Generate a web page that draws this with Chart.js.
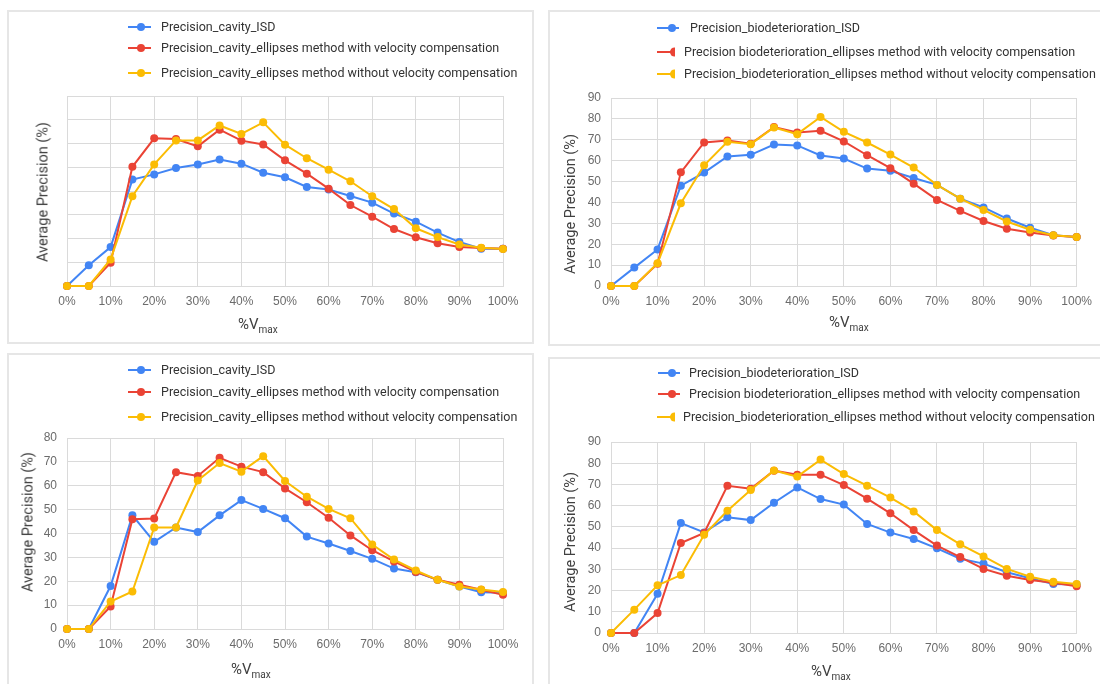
<!DOCTYPE html>
<html>
<head>
<meta charset="utf-8">
<script src="https://cdn.jsdelivr.net/npm/chart.js@4.4.1/dist/chart.umd.min.js"></script>
<style>
  body { margin: 0; width: 1100px; height: 684px; background: #fff; position: relative; overflow: hidden; font-family: Roboto, sans-serif; }
  .panel { position: absolute; border: 2px solid #e6e6e6; box-sizing: border-box; }
  canvas { position: absolute; }
  .lgText { position: absolute; white-space: nowrap; font-size: 12.5px; line-height: 14px; color: #333; transform: translateY(-50%); }
  .lgLine { position: absolute; height: 2px; transform: translateY(-50%); }
  .lgDot { position: absolute; width: 8px; height: 8px; border-radius: 50%; transform: translate(-50%, -50%); }
  .lgHalf { position: absolute; width: 5px; height: 9px; border-radius: 5px 0 0 5px; transform: translateY(-50%); }
  .yTitle { position: absolute; white-space: nowrap; font-size: 14.5px; color: #404040; transform: translate(-50%, -50%) rotate(-90deg); }
  .xTitle { position: absolute; white-space: nowrap; font-size: 15px; color: #404040; transform: translateY(-50%); }
  .xTitle sub { font-size: 10px; vertical-align: -4px; }
</style>
</head>
<body>
<div class="panel" style="left:7px; top:10px; width:527px; height:334px;"></div>
<div class="panel" style="left:548px; top:10px; width:560px; height:336px;"></div>
<div class="panel" style="left:7px; top:353px; width:527px; height:340px;"></div>
<div class="panel" style="left:548px; top:357px; width:560px; height:340px;"></div>

<canvas id="chartTL" width="526" height="333" style="left:7px; top:10px;"></canvas>
<canvas id="chartTR" width="552" height="335" style="left:548px; top:10px;"></canvas>
<canvas id="chartBL" width="526" height="331" style="left:7px; top:353px;"></canvas>
<canvas id="chartBR" width="552" height="327" style="left:548px; top:357px;"></canvas>

<script>
const xPct = [0, 5, 10, 15, 20, 25, 30, 35, 40, 45, 50, 55, 60, 65, 70, 75, 80, 85, 90, 95, 100];

// top left: cavity
const cavityIsdA     = [0, 8.7, 16.4, 44.8, 47.0, 49.7, 51.2, 53.3, 51.5, 47.7, 45.8, 41.7, 40.6, 37.9, 35.1, 30.5, 27.1, 22.5, 18.5, 15.7, 15.7];
const cavityWithA    = [0, 0, 9.8, 50.2, 62.2, 61.9, 58.8, 65.8, 61.2, 59.6, 52.9, 47.3, 41.0, 34.1, 29.2, 24.0, 20.5, 18.0, 16.4, 16.0, 15.7];
const cavityWithoutA = [0, 0, 11.2, 37.8, 51.2, 61.3, 61.3, 67.6, 64.0, 68.9, 59.5, 53.8, 49.0, 44.1, 37.8, 32.4, 24.3, 20.6, 17.5, 16.1, 15.6];

// top right: biodeterioration
const bioIsdA     = [0, 8.8, 17.5, 48.0, 54.3, 62.0, 62.8, 67.7, 67.3, 62.5, 61.0, 56.2, 55.2, 51.7, 48.4, 41.8, 37.6, 32.3, 27.9, 24.3, 23.5];
const bioWithA    = [0, 0, 10.7, 54.4, 68.7, 69.7, 68.1, 76.1, 73.5, 74.3, 69.2, 62.6, 56.4, 49.0, 41.2, 36.0, 31.1, 27.4, 25.6, 24.2, 23.5];
const bioWithoutA = [0, 0, 10.9, 39.6, 57.8, 69.0, 67.9, 75.9, 72.7, 80.9, 73.8, 68.7, 62.9, 56.7, 48.4, 41.8, 36.4, 30.9, 26.9, 24.3, 23.5];

// bottom left: cavity
const cavityIsdB     = [0, 0, 18.0, 47.6, 36.5, 42.5, 40.6, 47.6, 54.0, 50.3, 46.4, 38.7, 35.8, 32.7, 29.4, 25.3, 23.8, 20.6, 17.8, 15.4, 15.2];
const cavityWithB    = [0, 0, 9.4, 46.0, 46.3, 65.7, 64.1, 71.7, 68.0, 65.7, 58.9, 53.1, 46.6, 39.2, 33.0, 28.3, 23.9, 20.6, 18.5, 16.4, 14.3];
const cavityWithoutB = [0, 0, 11.5, 15.7, 42.5, 42.5, 62.2, 69.5, 65.9, 72.4, 62.0, 55.4, 50.3, 46.4, 35.4, 29.1, 24.5, 20.6, 17.8, 16.5, 15.5];

// bottom right: biodeterioration
const bioIsdB     = [0, 0, 18.5, 51.8, 47.4, 54.5, 53.2, 61.4, 68.6, 63.1, 60.5, 51.4, 47.3, 44.3, 39.9, 35.0, 32.7, 28.6, 25.8, 23.1, 22.8];
const bioWithB    = [0, 0, 9.4, 42.4, 47.1, 69.4, 68.0, 76.5, 74.6, 74.6, 69.7, 63.3, 56.4, 48.5, 41.2, 35.8, 30.2, 27.0, 25.0, 23.7, 22.0];
const bioWithoutB = [0, 11.0, 22.5, 27.3, 46.3, 57.6, 67.4, 76.6, 73.7, 81.7, 74.9, 69.4, 63.8, 57.3, 48.5, 41.8, 36.1, 30.2, 26.5, 24.2, 23.1];

const cavityNames = [
  'Precision_cavity_ISD',
  'Precision_cavity_ellipses method with velocity compensation',
  'Precision_cavity_ellipses method without velocity compensation'
];
const bioNames = [
  'Precision_biodeterioration_ISD',
  'Precision biodeterioration_ellipses method with velocity compensation',
  'Precision_biodeterioration_ellipses method without velocity compensation'
];

const colors = ['#4285F4', '#EA4335', '#FBBC04'];
const yTitleText = 'Average Precision (%)';

function makeChart(id, series, names, yMax, showY, box) {
  const ctx = document.getElementById(id).getContext('2d');
  return new Chart(ctx, {
    type: 'line',
    data: {
      datasets: series.map((vals, i) => ({
        label: names[i],
        data: vals.map((v, k) => ({ x: xPct[k], y: v })),
        borderColor: colors[i],
        backgroundColor: colors[i],
        pointBackgroundColor: colors[i],
        pointBorderColor: colors[i],
        pointRadius: 4,
        pointBorderWidth: 0,
        borderWidth: 2,
        tension: 0,
        clip: false,
        order: 2 - i
      }))
    },
    options: {
      responsive: false,
      devicePixelRatio: 1,
      animation: false,
      layout: { padding: { left: 0, right: box.padR, top: box.padT, bottom: 0 } },
      plugins: { legend: { display: false }, tooltip: { enabled: false } },
      scales: {
        x: {
          type: 'linear',
          min: 0,
          max: 100,
          afterFit: s => { s.height = box.xH; },
          ticks: {
            stepSize: 10,
            padding: 8,
            color: '#6b6b6b',
            font: { family: 'Liberation Sans, Arial', size: 12 },
            callback: v => v + '%'
          },
          grid: { color: '#dadada', drawTicks: false },
          border: { color: '#dadada' }
        },
        y: {
          min: 0,
          max: yMax,
          afterFit: s => { s.width = box.yW; },
          ticks: {
            display: showY,
            stepSize: 10,
            padding: 10,
            color: '#6b6b6b',
            font: { family: 'Liberation Sans, Arial', size: 12 }
          },
          grid: { color: '#dadada', drawTicks: false },
          border: { color: '#dadada' }
        }
      }
    }
  });
}

makeChart('chartTL', [cavityIsdA, cavityWithA, cavityWithoutA], cavityNames, 80, false,
  { padR: 30, padT: 86, xH: 57, yW: 60 });
makeChart('chartTR', [bioIsdA, bioWithA, bioWithoutA], bioNames, 90, true,
  { padR: 20, padT: 88, xH: 59, yW: 63 });
makeChart('chartBL', [cavityIsdB, cavityWithB, cavityWithoutB], cavityNames, 80, true,
  { padR: 30, padT: 85, xH: 55, yW: 60 });
makeChart('chartBR', [bioIsdB, bioWithB, bioWithoutB], bioNames, 90, true,
  { padR: 20, padT: 85, xH: 51, yW: 63 });

// legends and axis titles (html overlay)
function addEl(cls, style, html) {
  const d = document.createElement('div');
  d.className = cls;
  Object.assign(d.style, style);
  d.innerHTML = html;
  document.body.appendChild(d);
  return d;
}

function legendRow(y, x0, x1, mx, marker, tx, color, text) {
  addEl('lgLine', { left: x0 + 'px', top: y + 'px', width: (x1 - x0) + 'px', background: color }, '');
  if (marker === 'dot') {
    addEl('lgDot', { left: mx + 'px', top: y + 'px', background: color }, '');
  } else {
    addEl('lgHalf', { left: mx + 'px', top: y + 'px', background: color }, '');
  }
  addEl('lgText', { left: tx + 'px', top: y + 'px' }, text);
}

// top left
legendRow(27.3, 128, 151, 141, 'dot', 161, colors[0], cavityNames[0]);
legendRow(48.3, 128, 151, 141, 'dot', 161, colors[1], cavityNames[1]);
legendRow(72.7, 128, 151, 141, 'dot', 161, colors[2], cavityNames[2]);
// top right
legendRow(28.3, 657, 679, 672, 'dot', 690, colors[0], bioNames[0]);
legendRow(51.7, 657, 672, 670, 'half', 684, colors[1], bioNames[1]);
legendRow(74.3, 657, 672, 670, 'half', 684, colors[2], bioNames[2]);
// bottom left
legendRow(370, 128, 151, 141, 'dot', 161, colors[0], cavityNames[0]);
legendRow(391.7, 128, 151, 141, 'dot', 161, colors[1], cavityNames[1]);
legendRow(416.7, 128, 151, 141, 'dot', 161, colors[2], cavityNames[2]);
// bottom right
legendRow(373.3, 658, 680, 672, 'dot', 689, colors[0], bioNames[0]);
legendRow(394.3, 658, 680, 672, 'dot', 689, colors[1], bioNames[1]);
legendRow(416.7, 657, 672, 670, 'half', 683, colors[2], bioNames[2]);

addEl('yTitle', { left: '43px', top: '192px' }, yTitleText);
addEl('yTitle', { left: '570px', top: '204px' }, yTitleText);
addEl('yTitle', { left: '27.5px', top: '522px' }, yTitleText);
addEl('yTitle', { left: '570px', top: '542px' }, yTitleText);

const xTitleHtml = '%V<sub>max</sub>';
addEl('xTitle', { left: '238px', top: '325px' }, xTitleHtml);
addEl('xTitle', { left: '829px', top: '323px' }, xTitleHtml);
addEl('xTitle', { left: '231px', top: '670px' }, xTitleHtml);
addEl('xTitle', { left: '811px', top: '672px' }, xTitleHtml);
</script>
</body>
</html>
